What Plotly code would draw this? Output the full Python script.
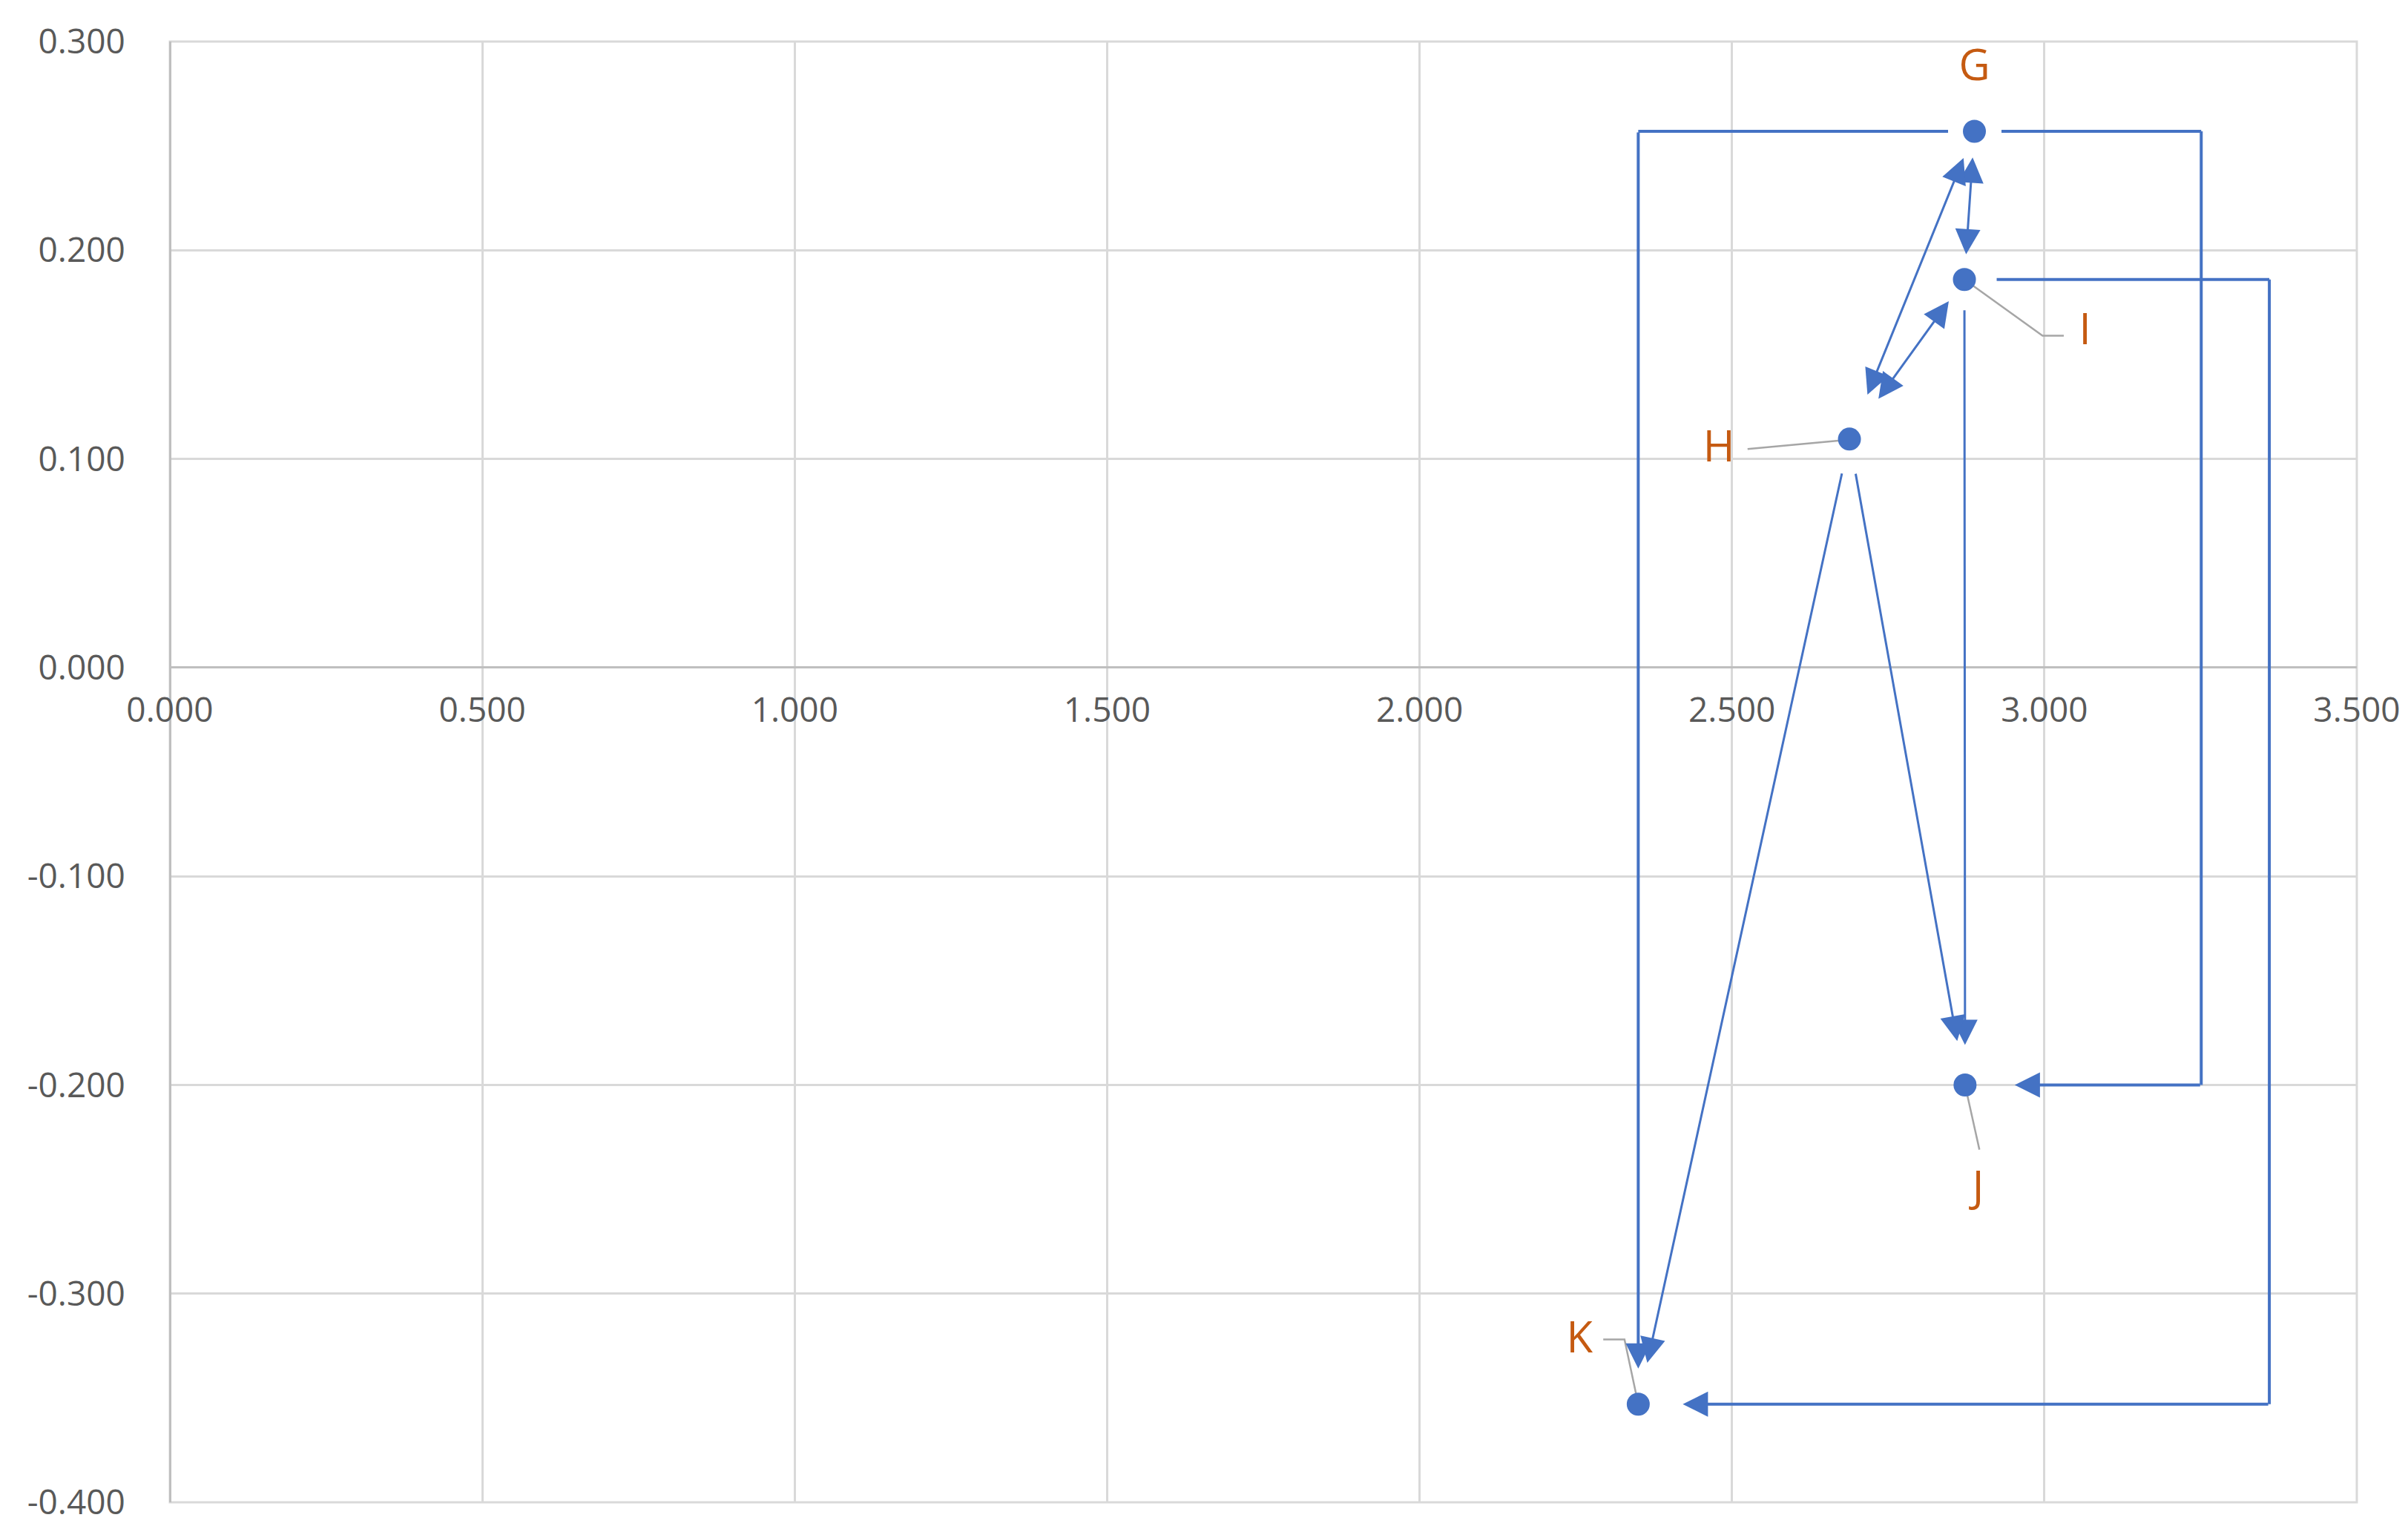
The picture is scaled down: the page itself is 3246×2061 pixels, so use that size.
import plotly.graph_objects as go

# ---------------- data ----------------
names = ["G", "H", "I", "J", "K"]
x_vals = [2.888, 2.688, 2.872, 2.873, 2.350]
y_vals = [0.257, 0.1095, 0.186, -0.200, -0.353]

label_x = [2.888, 2.479, 3.065, 2.894, 2.256]
label_y = [0.2866, 0.104, 0.160, -0.251, -0.323]

# callout leader lines (from point to label)
leader_G = ([], [])
leader_H = ([2.680, 2.525], [0.109, 0.1047])
leader_I = ([2.872, 2.997, 3.031], [0.186, 0.159, 0.159])
leader_J = ([2.873, 2.896], [-0.200, -0.231])
leader_K = ([2.350, 2.328, 2.294], [-0.353, -0.322, -0.322])

x_range = [0.0, 3.5]
y_range = [-0.4, 0.3]
x_tick_vals = [0.0, 0.5, 1.0, 1.5, 2.0, 2.5, 3.0, 3.5]
x_tick_text = ["0.000", "0.500", "1.000", "1.500", "2.000", "2.500", "3.000", "3.500"]
y_tick_vals = [0.3, 0.2, 0.1, 0.0, -0.1, -0.2, -0.3, -0.4]
y_tick_text = ["0.300", "0.200", "0.100", "0.000", "-0.100", "-0.200", "-0.300", "-0.400"]

# straight connectors: (from, to, double-headed, gap at start px, gap at end px)
straight = [
    ("G", "I", True, 34, 34),
    ("H", "G", True, 63, 39),
    ("H", "I", True, 65, 36),
    ("I", "J", False, 40, 54),
    ("H", "J", False, 46, 60),
    ("H", "K", False, 46, 57),
]
# elbow connectors: (from, to, turn x or None for single corner, gap start, gap end)
elbow_GK = ("G", "K", None, 34, 48)
elbow_GJ = ("G", "J", 3.251, 35, 67)
elbow_IK = ("I", "K", 3.360, 42, 60)

BLUE = "#4472C4"
ORANGE = "#C55A11"
GRID = "#D9D9D9"
AXIS = "#BFBFBF"
TICK = "#595959"
FONT = "Open Sans"

pos = {n: (x, y) for n, x, y in zip(names, x_vals, y_vals)}

fig = go.Figure()

# leader lines
for lx, ly in [leader_G, leader_H, leader_I, leader_J, leader_K]:
    if lx:
        fig.add_trace(go.Scatter(x=lx, y=ly, mode="lines",
                                 line=dict(color="#A6A6A6", width=2.5),
                                 hoverinfo="skip", showlegend=False))

annotations = []


def seg(x0, y0, x1, y1, head, start_gap=0, end_gap=0, double=False, width=4):
    size = 34.0 / (5.0 * width)
    a = dict(x=x1, y=y1, ax=x0, ay=y0, xref="x", yref="y", axref="x", ayref="y",
             text="", showarrow=True, arrowcolor=BLUE, arrowwidth=width,
             arrowhead=2 if head else 0, arrowsize=size,
             standoff=end_gap, startstandoff=start_gap)
    if double:
        a.update(arrowside="end+start", startarrowhead=2, startarrowsize=size)
    annotations.append(a)


# straight arrows
for a_name, b_name, dbl, g0, g1 in straight:
    (x0, y0), (x1, y1) = pos[a_name], pos[b_name]
    seg(x0, y0, x1, y1, True, g0, g1, dbl, width=3)

# elbow G -> K (single corner)
(gx, gy), (kx, ky) = pos["G"], pos["K"]
seg(gx, gy, kx, gy, False, start_gap=elbow_GK[3])
seg(kx, gy, kx, ky, True, end_gap=elbow_GK[4])

# elbow G -> J and I -> K (two corners)
for src, dst, tx, g0, g1 in [elbow_GJ, elbow_IK]:
    (sx, sy), (dx, dy) = pos[src], pos[dst]
    seg(sx, sy, tx, sy, False, start_gap=g0)
    fig.add_trace(go.Scatter(x=[tx, tx], y=[sy, dy], mode="lines",
                             line=dict(color=BLUE, width=4),
                             hoverinfo="skip", showlegend=False))
    seg(tx, dy, dx, dy, True, end_gap=g1)

# points
fig.add_trace(go.Scatter(x=x_vals, y=y_vals, mode="markers",
                         marker=dict(size=31, color=BLUE),
                         hoverinfo="skip", showlegend=False))
# labels
fig.add_trace(go.Scatter(x=label_x, y=label_y, mode="text", text=names,
                         textposition="middle center",
                         textfont=dict(family=FONT, size=58, color=ORANGE),
                         hoverinfo="skip", showlegend=False))

zero_frac = (0 - y_range[0]) / (y_range[1] - y_range[0])

fig.update_layout(
    width=3246, height=2061,
    margin=dict(l=221, r=77, t=48, b=44, autoexpand=False),
    paper_bgcolor="white", plot_bgcolor="white",
    showlegend=False,
    annotations=annotations,
    xaxis=dict(range=x_range, tickvals=x_tick_vals, ticktext=x_tick_text,
               automargin=False,
               showgrid=True, gridcolor=GRID, gridwidth=3,
               zeroline=True, zerolinecolor=AXIS, zerolinewidth=3,
               anchor="free", position=zero_frac, showline=False,
               ticks="outside", ticklen=17, tickcolor="rgba(0,0,0,0)",
               tickfont=dict(family=FONT, size=46, color=TICK)),
    yaxis=dict(range=y_range, tickvals=y_tick_vals, ticktext=y_tick_text,
               automargin=False,
               showgrid=True, gridcolor=GRID, gridwidth=3,
               zeroline=True, zerolinecolor=AXIS, zerolinewidth=3,
               showline=False, ticks="outside", ticklen=50,
               tickcolor="rgba(0,0,0,0)",
               tickfont=dict(family=FONT, size=46, color=TICK)),
    shapes=[dict(type="rect", xref="paper", yref="paper", x0=0, x1=1, y0=0, y1=1,
                 line=dict(color=GRID, width=3), layer="below")],
)

fig.write_html("out.html")
